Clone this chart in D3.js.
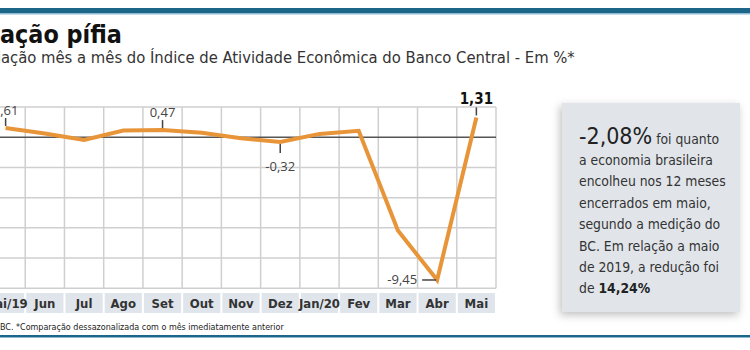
<!DOCTYPE html>
<html>
<head>
<meta charset="utf-8">
<script src="https://cdn.jsdelivr.net/npm/d3@7"></script>
<style>
  body { margin: 0; background: #fff; }
  svg { display: block; }
</style>
</head>
<body>
<svg id="chart"></svg>
<script>
const months = ["Mai/19", "Jun", "Jul", "Ago", "Set", "Out", "Nov", "Dez", "Jan/20", "Fev", "Mar", "Abr", "Mai"];
const values = [0.61, 0.24, -0.18, 0.44, 0.47, 0.3, -0.07, -0.32, 0.22, 0.42, -6.18, -9.45, 1.31];
const yTicks = [-10, -8, -6, -4, -2, 0, 2];
// which points get a value label, and where
const callouts = [
  { i: 0, pos: "top" },
  { i: 4, pos: "top" },
  { i: 7, pos: "bottom" },
  { i: 11, pos: "left" },
  { i: 12, pos: "top", bold: true },
];
// the reference is cropped on the left: the first chars of these sit off-canvas
const title = ["Vari", "ação pífia"];
const subtitle = ["Vari", "ação mês a mês do Índice de Atividade Econômica do Banco Central - Em %*"];
const footnote = ["Fonte: ", "BC. *Comparação dessazonalizada com o mês imediatamente anterior"];
const boxLines = [
  "a economia brasileira",
  "encolheu nos 12 meses",
  "encerrados em maio,",
  "segundo a medição do",
  "BC. Em relação a maio",
  "de 2019, a redução foi",
];

const W = 750, H = 350;
const narrow = "'Liberation Sans Narrow', 'DejaVu Sans Condensed', 'Roboto', sans-serif";
const lineColor = "#e8953a";
const textColor = "#333";

const svg = d3.select("#chart").attr("width", W).attr("height", H);

// top rule
svg.append("rect").attr("x", 0).attr("y", 8).attr("width", W).attr("height", 5).attr("fill", "#1b6689");
svg.append("rect").attr("x", 0).attr("y", 13).attr("width", W).attr("height", 1.5).attr("fill", "#8dbbd6");

// text whose visible part (parts[1]) starts at x0 and ends near x1
function croppedText(parts, x0, x1, y, size, attrs) {
  const t = svg.append("text").attr("y", y).attr("font-family", narrow).attr("font-size", size);
  Object.entries(attrs).forEach(([k, v]) => t.attr(k, v));
  t.append("tspan").text(parts[0]);
  t.append("tspan").text(parts[1]);
  const node = t.node();
  const pre = node.getSubStringLength(0, parts[0].length);
  const rest = node.getComputedTextLength() - pre;
  const fs = size * (x1 - x0) / rest;
  t.attr("font-size", fs);
  const pre2 = node.getSubStringLength(0, parts[0].length);
  t.attr("x", x0 - pre2);
  return t;
}

croppedText(title, 0, 122, 43, 25, { "font-weight": "bold", fill: "#111" });
croppedText(subtitle, 1, 575, 63, 18, { fill: textColor });

// scales
const x = d3.scaleBand().domain(months).range([-14, 496]).padding(0);
const y = d3.scaleLinear().domain([-10, 2]).range([288.3, 107]);
const cx = (m) => x(m) + x.bandwidth() / 2;

const grid = svg.append("g").attr("class", "grid");
grid.selectAll(".v")
  .data(months.slice(1).map((m) => x(m)).concat([x.range()[1]]))
  .enter()
  .append("line")
  .attr("x1", (d) => d).attr("x2", (d) => d)
  .attr("y1", y(2)).attr("y2", y(-10))
  .attr("stroke", "#cfcfcf").attr("stroke-width", 1.5);

grid.selectAll(".h")
  .data(yTicks)
  .enter()
  .append("line")
  .attr("x1", x.range()[0]).attr("x2", x.range()[1])
  .attr("y1", (d) => y(d)).attr("y2", (d) => y(d))
  .attr("stroke", (d) => (d === 0 ? "#555" : "#cfcfcf"))
  .attr("stroke-width", 1.5);

// month cells
const cells = svg.append("g").attr("class", "x axis");
cells.selectAll("rect")
  .data(months)
  .enter()
  .append("rect")
  .attr("x", (d) => x(d) + 1)
  .attr("y", 293)
  .attr("width", x.bandwidth() - 2)
  .attr("height", 20)
  .attr("fill", "#dfe5eb");

cells.selectAll("text")
  .data(months)
  .enter()
  .append("text")
  .attr("x", (d) => cx(d))
  .attr("y", 307.5)
  .attr("text-anchor", "middle")
  .attr("font-family", narrow)
  .attr("font-weight", "bold")
  .attr("font-size", 13)
  .attr("fill", textColor)
  .text((d) => d);

// line
const line = d3.line()
  .x((d, i) => cx(months[i]))
  .y((d) => y(d));

svg.append("path")
  .datum(values)
  .attr("d", line)
  .attr("fill", "none")
  .attr("stroke", lineColor)
  .attr("stroke-width", 4)
  .attr("stroke-linejoin", "miter");

// callouts
const labels = svg.append("g").attr("class", "labels");
const fmt = (v) => d3.format(".2f")(v).replace(".", ",").replace("−", "-");
callouts.forEach((c) => {
  const px = cx(months[c.i]);
  const py = y(values[c.i]);
  const g = labels.append("g");
  let tx, ty, anchor = "middle";
  if (c.pos === "top") {
    g.append("line").attr("x1", px).attr("x2", px).attr("y1", py - 2).attr("y2", py - 10)
      .attr("stroke", "#444").attr("stroke-width", 1.5);
    tx = px; ty = py - 13;
  } else if (c.pos === "bottom") {
    g.append("line").attr("x1", px).attr("x2", px).attr("y1", py + 2).attr("y2", py + 11)
      .attr("stroke", "#444").attr("stroke-width", 1.5);
    tx = px; ty = py + 29;
  } else {
    g.append("line").attr("x1", px - 1).attr("x2", px - 15).attr("y1", py).attr("y2", py)
      .attr("stroke", "#444").attr("stroke-width", 1.5);
    tx = px - 20; ty = py + 4; anchor = "end";
  }
  g.append("text")
    .attr("x", tx).attr("y", ty)
    .attr("text-anchor", anchor)
    .attr("font-family", c.bold ? narrow : "'Open Sans', sans-serif")
    .attr("font-weight", c.bold ? "bold" : "normal")
    .attr("font-size", c.bold ? 15 : 13)
    .attr("fill", c.bold ? "#111" : "#444")
    .text(fmt(values[c.i]));
});

// footnote
croppedText(footnote, 0, 284, 330, 11, { fill: "#222" });

// bottom rule
svg.append("rect").attr("x", 0).attr("y", 335).attr("width", W).attr("height", 2).attr("fill", "#1b6689");
svg.append("rect").attr("x", 0).attr("y", 337).attr("width", W).attr("height", 1).attr("fill", "#8dbbd6");

// side box
const defs = svg.append("defs");
const f = defs.append("filter").attr("id", "shadow").attr("x", "-20%").attr("y", "-20%").attr("width", "140%").attr("height", "140%");
f.append("feDropShadow").attr("dx", -2).attr("dy", 3).attr("stdDeviation", 4).attr("flood-color", "#000").attr("flood-opacity", 0.25);

svg.append("rect")
  .attr("x", 562).attr("y", 103)
  .attr("width", 178).attr("height", 209)
  .attr("fill", "#e1e5ea")
  .attr("filter", "url(#shadow)");

const box = svg.append("g").attr("font-family", narrow).attr("fill", textColor);
const first = box.append("text").attr("x", 579).attr("y", 143.5);
first.append("tspan").attr("font-size", 23).attr("fill", "#222").text("-2,08%");
first.append("tspan").attr("font-size", 13.8).text(" foi quanto");

box.selectAll(".bl")
  .data(boxLines)
  .enter()
  .append("text")
  .attr("x", 579)
  .attr("y", (d, i) => 165 + i * 21.4)
  .attr("font-size", 13.8)
  .text((d) => d);

const last = box.append("text").attr("x", 579).attr("y", 165 + 6 * 21.4).attr("font-size", 13.8);
last.append("tspan").text("de ");
last.append("tspan").attr("font-weight", "bold").attr("fill", "#222").text("14,24%");
</script>
</body>
</html>
